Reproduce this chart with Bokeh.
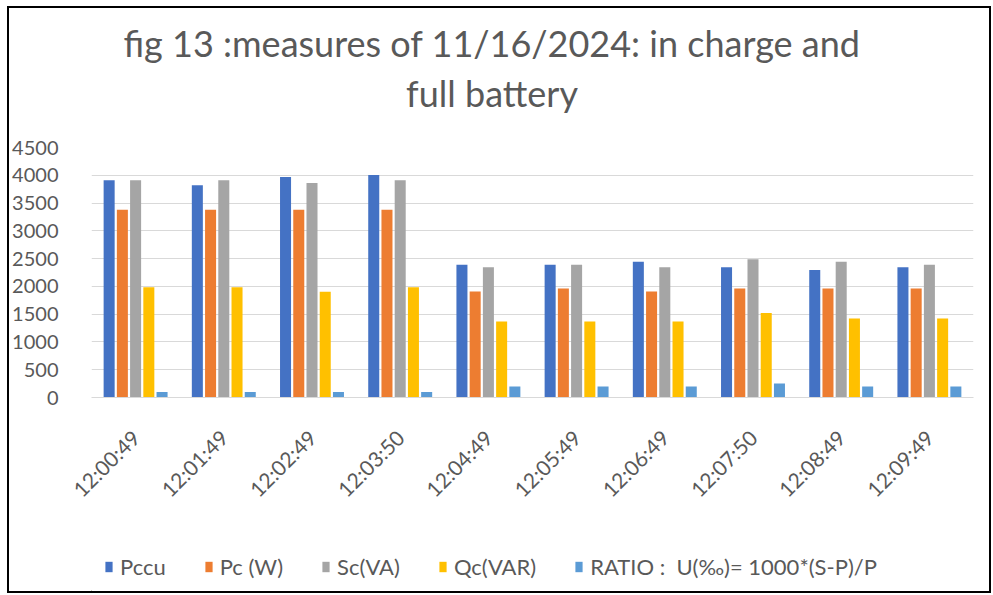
import math
from bokeh.plotting import figure
from bokeh.layouts import column
from bokeh.models import (ColumnDataSource, Label, Legend, LegendItem, Range1d,
                          SingleIntervalTicker, FactorRange)
from bokeh.transform import dodge
from bokeh.embed import file_html
from bokeh.resources import INLINE

times = ["12:00:49", "12:01:49", "12:02:49", "12:03:50", "12:04:49",
         "12:05:49", "12:06:49", "12:07:50", "12:08:49", "12:09:49"]
pccu = [3910, 3820, 3970, 4005, 2390, 2390, 2445, 2345, 2295, 2345]
pc = [3380, 3380, 3380, 3380, 1910, 1960, 1910, 1960, 1960, 1960]
sc = [3910, 3910, 3860, 3910, 2345, 2390, 2345, 2490, 2445, 2390]
qc = [1985, 1985, 1905, 1985, 1370, 1370, 1370, 1520, 1420, 1420]
ratio = [100, 100, 100, 100, 200, 200, 200, 250, 200, 200]

series_names = ["Pccu", "Pc (W)", "Sc(VA)", "Qc(VAR)", "RATIO :  U(\u2030)= 1000*(S-P)/P"]
series_keys = ["pccu", "pc", "sc", "qc", "ratio"]
series_colors = ["#4472C4", "#ED7D31", "#A5A5A5", "#FFC000", "#5B9BD5"]
title_lines = ["fig 13 :measures of 11/16/2024: in charge and", "full battery"]

src = ColumnDataSource(dict(t=times, pccu=pccu, pc=pc, sc=sc, qc=qc, ratio=ratio))

FONT = "Lato"
TXT = "#595959"
GRID = "#D9D9D9"
W = 980
BL, BR = 81, 16  # frame borders (shared by all plots of the column)


def blank(h):
    # frames in a column are aligned with the main chart: frame spans page x 90..973
    f = figure(width=W, height=h, x_range=Range1d(90, 973), y_range=Range1d(0, h),
               output_backend="svg", toolbar_location=None, title=None,
               x_axis_location=None, y_axis_location=None,
               min_border_left=BL, min_border_right=BR, min_border_top=0, min_border_bottom=0)
    f.grid.visible = False
    f.outline_line_color = None
    f.background_fill_color = "white"
    f.border_fill_color = "white"
    return f


# ---- title strip
TH = 125
t = blank(TH)
for line, yy in zip(title_lines, [TH - 34, TH - 84]):
    t.add_layout(Label(x=491, y=yy, text=line, text_align="center", text_baseline="middle",
                       text_font=FONT, text_font_size="36px", text_color=TXT))

# ---- main chart
p = figure(width=W, height=412, x_range=FactorRange(*times), y_range=Range1d(0, 4500),
           output_backend="svg", toolbar_location=None, title=None,
           min_border_left=BL, min_border_right=BR, min_border_top=14, min_border_bottom=148)
p.outline_line_color = None
p.background_fill_color = "white"
p.border_fill_color = "white"

offsets = [-0.3, -0.15, 0.0, 0.15, 0.3]
for key, col, off in zip(series_keys, series_colors, offsets):
    p.vbar(x=dodge("t", off, range=p.x_range), top=key, width=0.125, bottom=0,
           source=src, fill_color=col, line_color=None)

p.xgrid.grid_line_color = None
p.ygrid.grid_line_color = GRID
p.ygrid.grid_line_width = 1

p.yaxis.ticker = SingleIntervalTicker(interval=500)
p.yaxis.axis_line_color = None
p.yaxis.major_tick_line_color = None
p.yaxis.minor_tick_line_color = None
p.yaxis.major_label_standoff = 27
p.yaxis.major_label_text_font = FONT
p.yaxis.major_label_text_font_size = "20px"
p.yaxis.major_label_text_color = TXT

p.xaxis.axis_line_color = GRID
p.xaxis.major_tick_line_color = None
p.xaxis.minor_tick_line_color = None
p.xaxis.major_label_orientation = math.pi / 4
p.xaxis.major_label_standoff = 30
p.xaxis.major_label_text_font = FONT
p.xaxis.major_label_text_font_size = "21px"
p.xaxis.major_label_text_color = TXT

# ---- legend strip
LH = 46
lg = blank(LH)
items = []
for name, key, col in zip(series_names, series_keys, series_colors):
    # one off-screen bar per series, only used to draw its legend swatch
    r = lg.vbar(x=[-1000], top=[1], width=1, fill_color=col, line_color=None)
    items.append(LegendItem(label=name, renderers=[r]))
legend = Legend(items=items, orientation="horizontal", location=(13, 11))
legend.border_line_color = None
legend.background_fill_alpha = 0
legend.padding = 0
legend.margin = 0
legend.spacing = 38
legend.glyph_width = 9
legend.glyph_height = 13
legend.label_standoff = 7
legend.label_text_font = FONT
legend.label_text_font_size = "22px"
legend.label_text_color = TXT
lg.add_layout(legend, "center")

layout = column(t, p, lg, spacing=0, margin=(6, 0, 0, 7),
                styles={"border": "2px solid black"})

open("out.html", "w").write(file_html(layout, INLINE))
